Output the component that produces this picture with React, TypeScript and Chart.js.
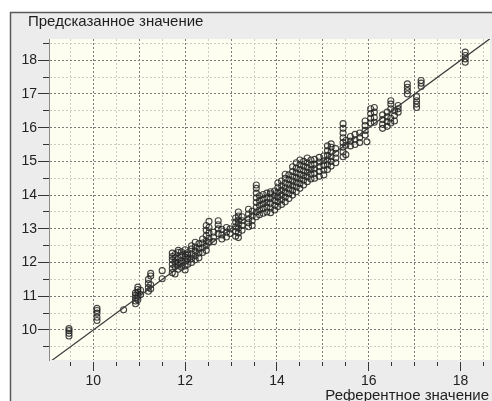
import { useEffect, useRef } from 'react';
import { Chart, registerables } from 'chart.js';

Chart.register(...registerables);

// Scale ranges
const xRange = [9.035, 18.64];
const yRange = [9.11, 18.63];

// Tick positions and labels
const xTickValues = [9.5, 10, 10.5, 11, 11.5, 12, 12.5, 13, 13.5, 14, 14.5, 15, 15.5, 16, 16.5, 17, 17.5, 18, 18.5];
const yTickValues = [9.5, 10, 10.5, 11, 11.5, 12, 12.5, 13, 13.5, 14, 14.5, 15, 15.5, 16, 16.5, 17, 17.5, 18, 18.5];
const xTickLabels = [10, 12, 14, 16, 18];
const yTickLabels = [10, 11, 12, 13, 14, 15, 16, 17, 18];

const xTitle = 'Референтное значение';
const yTitle = 'Предсказанное значение';

// Reference value -> predicted values observed at it
const lowRange: [number, number[]][] = [
  [9.47, [9.82, 9.9, 9.98, 10.04]],
  [10.08, [10.28, 10.38, 10.5, 10.58, 10.64]],
  [10.66, [10.6]],
  [10.92, [10.78, 10.86, 10.95, 11.03, 11.1]],
  [10.97, [10.9, 11.0, 11.12, 11.2, 11.27]],
  [11.03, [11.05, 11.18]],
  [11.2, [11.15, 11.26, 11.38, 11.5]],
  [11.25, [11.22, 11.34, 11.6, 11.68]],
  [11.5, [11.52, 11.76]],
  [11.72, [11.7, 11.82, 11.95, 12.08, 12.18, 12.28]],
  [11.78, [11.66, 11.88, 12.02, 12.14, 12.24]],
  [11.85, [11.8, 11.92, 12.0, 12.12, 12.3, 12.36]],
  [11.92, [11.86, 11.98, 12.06, 12.2, 12.32]],
  [12.0, [11.78, 11.9, 12.04, 12.16, 12.26, 12.38]],
  [12.06, [11.95, 12.1, 12.22, 12.3]],
];

const midRange: [number, number[]][] = [
  [12.14, [12.0, 12.12, 12.26, 12.4, 12.5]],
  [12.22, [12.08, 12.2, 12.34, 12.46, 12.6]],
  [12.3, [12.14, 12.28, 12.42, 12.56]],
  [12.38, [12.3, 12.44, 12.58, 12.7]],
  [12.46, [12.36, 12.5, 12.64, 12.8, 12.96, 13.1]],
  [12.52, [12.6, 12.72, 12.88, 13.04, 13.22]],
  [12.62, [12.62, 12.76, 12.9]],
  [12.72, [12.86, 13.0, 13.12, 13.24]],
  [12.8, [12.7, 12.82, 12.98]],
  [12.9, [12.76, 12.9, 13.04]],
  [12.98, [12.86, 13.0]],
  [13.1, [12.78, 12.92, 13.06, 13.2, 13.32]],
  [13.16, [12.74, 12.88, 13.02, 13.14, 13.26, 13.38, 13.5]],
  [13.24, [12.96, 13.1, 13.24, 13.36]],
  [13.38, [13.06, 13.18, 13.3, 13.44, 13.58]],
  [13.46, [13.1, 13.24, 13.38, 13.52]],
  [13.55, [13.36, 13.5, 13.64, 13.78, 13.92, 14.06, 14.2, 14.3]],
  [13.62, [13.42, 13.56, 13.7, 13.84, 13.98]],
  [13.7, [13.46, 13.6, 13.74, 13.88, 14.02]],
  [13.78, [13.5, 13.64, 13.78, 13.92, 14.06]],
  [13.86, [13.48, 13.62, 13.76, 13.9, 14.04, 14.1]],
  [13.95, [13.56, 13.7, 13.84, 13.98, 14.12]],
  [14.02, [13.66, 13.8, 13.94, 14.08, 14.22, 14.36]],
];

const highRange: [number, number[]][] = [
  [14.1, [13.72, 13.86, 14.0, 14.14, 14.28, 14.42]],
  [14.18, [13.8, 13.94, 14.08, 14.22, 14.36, 14.5, 14.62]],
  [14.26, [13.9, 14.04, 14.18, 14.32, 14.46, 14.6]],
  [14.34, [14.0, 14.14, 14.28, 14.42, 14.56, 14.7, 14.84]],
  [14.42, [14.1, 14.24, 14.38, 14.52, 14.66, 14.8, 14.96]],
  [14.5, [14.2, 14.34, 14.48, 14.62, 14.76, 14.9, 15.04]],
  [14.58, [14.3, 14.44, 14.58, 14.72, 14.86, 15.0]],
  [14.66, [14.4, 14.54, 14.68, 14.82, 14.96, 15.1]],
  [14.74, [14.48, 14.62, 14.76, 14.9, 15.04]],
  [14.82, [14.5, 14.64, 14.78, 14.92, 15.06]],
  [14.92, [14.56, 14.7, 14.84, 14.98, 15.12]],
  [15.02, [14.6, 14.74, 14.88, 15.02, 15.16]],
  [15.1, [14.76, 14.9, 15.04, 15.18, 15.32, 15.46]],
  [15.18, [14.86, 15.0, 15.14, 15.28, 15.42, 15.52]],
  [15.28, [14.96, 15.1, 15.24, 15.38]],
];

const topRange: [number, number[]][] = [
  [15.44, [15.14, 15.28, 15.42, 15.56, 15.7, 15.84, 15.98, 16.12]],
  [15.5, [15.2, 15.48, 15.62]],
  [15.6, [15.46, 15.6, 15.74]],
  [15.7, [15.5, 15.64, 15.8]],
  [15.8, [15.56, 15.7, 15.84]],
  [15.92, [15.78, 15.92, 16.06, 16.2]],
  [15.96, [15.58]],
  [16.04, [16.14, 16.28, 16.42, 16.56]],
  [16.12, [16.16, 16.3, 16.46, 16.6]],
  [16.3, [15.98, 16.1, 16.24, 16.38]],
  [16.4, [16.04, 16.18, 16.32, 16.46]],
  [16.48, [16.14, 16.28, 16.56, 16.7, 16.8]],
  [16.56, [16.2, 16.36, 16.5]],
  [16.64, [16.46, 16.56, 16.66]],
  [16.84, [17.0, 17.1, 17.2, 17.3]],
  [17.04, [16.6, 16.7, 16.8, 16.92]],
  [17.14, [17.22, 17.32, 17.4]],
  [18.1, [17.94, 18.04, 18.14, 18.24]],
];

// Identity line (predicted = reference)
const identityLine = [9.0, 18.7];

const FONT = '"Liberation Sans", Arial, sans-serif';

const framePlugin = {
  id: 'frame',
  beforeDraw(chart: any) {
    const { ctx, width, height, chartArea } = chart;
    ctx.save();
    ctx.fillStyle = '#ffffff';
    ctx.fillRect(0, 0, width, height);
    ctx.fillStyle = '#ececec';
    ctx.fillRect(10, 12, width - 10, height - 12);
    ctx.strokeStyle = '#5a5a5a';
    ctx.lineWidth = 1.5;
    ctx.beginPath();
    ctx.moveTo(10.5, height);
    ctx.lineTo(10.5, 12.5);
    ctx.lineTo(width, 12.5);
    ctx.stroke();
    ctx.fillStyle = '#fdfdf0';
    ctx.fillRect(chartArea.left, chartArea.top, chartArea.right - chartArea.left, chartArea.bottom - chartArea.top);
    ctx.restore();
  },
  afterDraw(chart: any) {
    const { ctx } = chart;
    ctx.save();
    ctx.fillStyle = '#1e1e1e';
    ctx.font = `15px ${FONT}`;
    ctx.textBaseline = 'alphabetic';
    ctx.textAlign = 'left';
    ctx.fillText(yTitle, 28, 26);
    ctx.textAlign = 'right';
    ctx.fillText(xTitle, 489, 400);
    ctx.restore();
  },
};

export default function App() {
  const ref = useRef<HTMLCanvasElement>(null);

  useEffect(() => {
    const canvas = ref.current;
    if (!canvas) return;
    const points = [...lowRange, ...midRange, ...highRange, ...topRange].flatMap(([x, ys]) =>
      ys.map((y) => ({ x, y }))
    );
    const isInt = (v: any) => typeof v === 'number' && Math.abs(v - Math.round(v)) < 1e-6;

    const chart = new Chart(canvas, {
      type: 'scatter',
      data: {
        datasets: [
          {
            type: 'line',
            data: identityLine.map((v) => ({ x: v, y: v })),
            borderColor: '#3a3a3a',
            borderWidth: 1.2,
            pointRadius: 0,
            fill: false,
            order: 0,
          } as any,
          {
            data: points,
            pointRadius: 3,
            pointBorderWidth: 1.1,
            borderColor: 'rgba(35,35,35,0.85)',
            backgroundColor: 'rgba(0,0,0,0)',
            pointBackgroundColor: 'rgba(0,0,0,0)',
            pointBorderColor: 'rgba(35,35,35,0.85)',
            order: 1,
          },
        ],
      },
      options: {
        responsive: false,
        animation: false,
        layout: { autoPadding: false, padding: { left: 0, top: 39, right: 2, bottom: 0 } },
        plugins: {
          legend: { display: false },
          tooltip: { enabled: false },
        },
        scales: {
          x: {
            type: 'linear',
            min: xRange[0],
            max: xRange[1],
            afterBuildTicks: (axis: any) => {
              axis.ticks = xTickValues.map((value) => ({ value }));
            },
            afterFit: (axis: any) => {
              axis.height = 41;
              axis.paddingLeft = 0;
              axis.paddingRight = 0;
            },
            ticks: {
              autoSkip: false,
              maxRotation: 0,
              padding: 1,
              color: '#222',
              font: { family: FONT, size: 14 },
              callback: (v: any) => (xTickLabels.includes(Number(v)) ? String(v) : ''),
            },
            grid: {
              color: (c: any) => (isInt(c.tick?.value) ? '#7c7c7c' : '#cdcdc4'),
              lineWidth: 1,
              tickLength: 12,
              tickColor: '#333',
              tickWidth: 1,
              tickBorderDash: (c: any) =>
                xTickLabels.includes(c.tick?.value) ? [0, 2, 9, 100] : [0, 2, 4, 100],
            },
            border: { display: false, dash: (c: any) => (c.tick ? [2, 2] : []) },
          },
          y: {
            type: 'linear',
            min: yRange[0],
            max: yRange[1],
            afterBuildTicks: (axis: any) => {
              axis.ticks = yTickValues.map((value) => ({ value }));
            },
            afterFit: (axis: any) => {
              axis.width = 49;
              axis.paddingTop = 0;
              axis.paddingBottom = 0;
            },
            ticks: {
              autoSkip: false,
              padding: 1,
              color: '#222',
              font: { family: FONT, size: 14 },
              callback: (v: any) => (yTickLabels.includes(Number(v)) ? String(v) : ''),
            },
            grid: {
              color: (c: any) => (isInt(c.tick?.value) ? '#7c7c7c' : '#cdcdc4'),
              lineWidth: 1,
              tickLength: 11,
              tickColor: '#333',
              tickWidth: 1,
              tickBorderDash: (c: any) => (isInt(c.tick?.value) ? [] : [0, 5, 6, 100]),
            },
            border: { display: true, color: '#8a8a8a', width: 1, dash: (c: any) => (c.tick ? [2, 2] : []) },
          },
        },
      },
      plugins: [framePlugin],
    } as any);

    return () => chart.destroy();
  }, []);

  return (
    <div style={{ position: 'absolute', left: 0, top: 0, width: 492, height: 401 }}>
      <canvas ref={ref} width={492} height={401} style={{ display: 'block' }} />
    </div>
  );
}
